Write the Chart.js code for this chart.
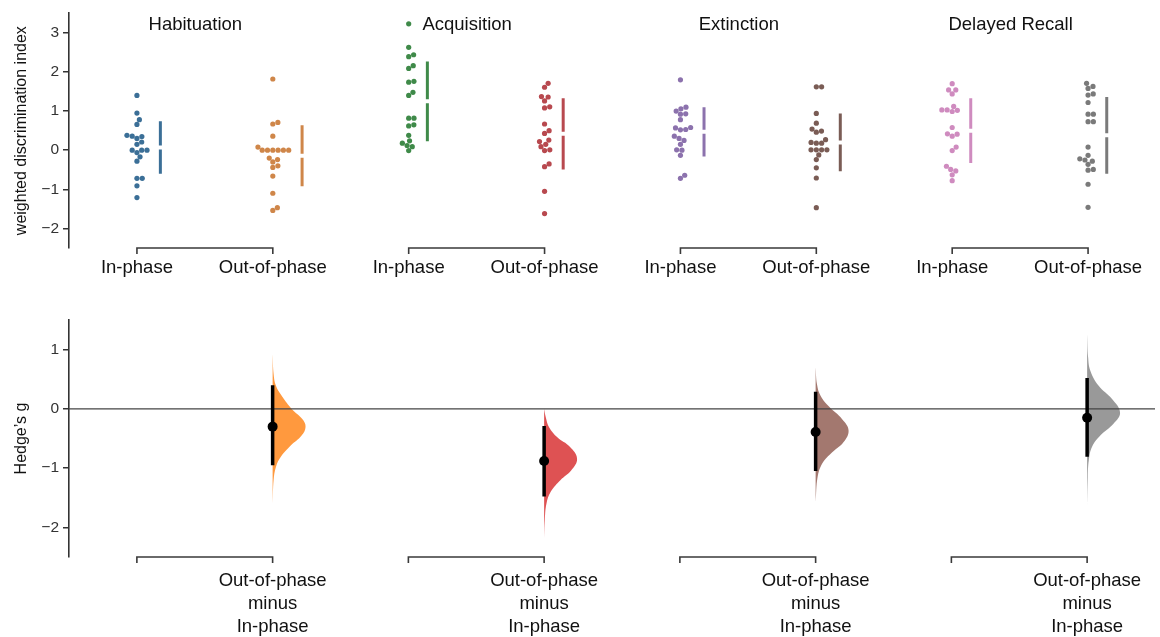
<!DOCTYPE html>
<html>
<head>
<meta charset="utf-8">
<script src="https://cdn.jsdelivr.net/npm/chart.js@4.4.1/dist/chart.umd.min.js"></script>
<style>
  html, body { margin: 0; padding: 0; background: #fff; }
  #wrap { width: 1160px; height: 637px; position: relative; }
  canvas { position: absolute; left: 0; }
  #topChart { top: 0; }
  #botChart { top: 300px; }
</style>
</head>
<body>
<div id="wrap">
  <canvas id="topChart" width="1160" height="300"></canvas>
  <canvas id="botChart" width="1160" height="337"></canvas>
</div>
<script>
const phases = ['Habituation', 'Acquisition', 'Extinction', 'Delayed Recall'];
const groupNames = ['In-phase', 'Out-of-phase'];
const contrastLabel = ['Out-of-phase', 'minus', 'In-phase'];
const topTicks = [-2, -1, 0, 1, 2, 3];
const bottomTicks = [-2, -1, 0, 1];

// raw values, weighted discrimination index
const habIn = [1.40, 0.95, 0.78, 0.66, 0.38, 0.36, 0.35, 0.30, 0.21, 0.15, 0.00, 0.00, 0.00, -0.06, -0.17, -0.28, -0.72, -0.72, -0.91, -1.21];
const habOut = [1.82, 0.71, 0.67, 0.36, 0.08, 0.00, 0.00, 0.00, 0.00, 0.00, 0.00, -0.20, -0.24, -0.30, -0.40, -0.44, -0.66, -1.10, -1.47, -1.54];
const acqIn = [3.23, 2.63, 2.44, 2.39, 2.16, 2.09, 1.76, 1.74, 1.48, 1.40, 0.82, 0.82, 0.65, 0.62, 0.38, 0.24, 0.18, 0.12, 0.09, -0.01];
const acqOut = [1.71, 1.61, 1.37, 1.36, 1.26, 1.11, 1.08, 0.67, 0.50, 0.43, 0.26, 0.22, 0.15, 0.09, 0.01, -0.01, -0.35, -0.42, -1.05, -1.62];
const extIn = [1.80, 1.10, 1.06, 1.00, 0.93, 0.92, 0.78, 0.58, 0.57, 0.53, 0.52, 0.36, 0.30, 0.25, 0.15, 0.01, 0.00, -0.13, -0.64, -0.72];
const extOut = [1.62, 1.62, 0.94, 0.69, 0.54, 0.49, 0.46, 0.27, 0.20, 0.18, 0.18, 0.01, 0.01, 0.01, 0.01, -0.12, -0.24, -0.45, -0.71, -1.47];
const recIn = [1.70, 1.54, 1.54, 1.44, 1.12, 1.03, 1.03, 1.02, 0.99, 0.58, 0.42, 0.41, 0.36, 0.08, -0.01, -0.41, -0.49, -0.53, -0.63, -0.78];
const recOut = [1.71, 1.63, 1.58, 1.44, 1.41, 1.22, 0.92, 0.92, 0.73, 0.73, 0.08, -0.13, -0.22, -0.25, -0.28, -0.36, -0.49, -0.51, -0.87, -1.46];

// mean and sd bars
const groupMean = [0.07, -0.14, 1.25, 0.42, 0.47, 0.20, 0.50, 0.38];
const groupSd = [0.67, 0.78, 1.02, 0.91, 0.63, 0.74, 0.83, 0.98];

// Hedge's g with 95% CI
const hedgesG = [-0.30, -0.88, -0.39, -0.15];
const ciLow = [-0.95, -1.48, -1.05, -0.81];
const ciHigh = [0.40, -0.29, 0.29, 0.52];

// bootstrap distributions (relative density)
const habBootG = [0.92, 0.59, 0.39, 0.20, 0.00, -0.17, -0.30, -0.45, -0.62, -0.81, -0.98, -1.20, -1.60];
const habBootDensity = [0, 0.03, 0.10, 0.30, 0.58, 0.90, 1.00, 0.88, 0.55, 0.25, 0.10, 0.03, 0];
const acqBootG = [0.00, -0.14, -0.31, -0.48, -0.64, -0.84, -1.04, -1.20, -1.40, -1.60, -1.88, -2.21];
const acqBootDensity = [0, 0.05, 0.15, 0.40, 0.78, 1.00, 0.82, 0.50, 0.20, 0.07, 0.02, 0];
const extBootG = [0.70, 0.42, 0.22, 0.03, -0.17, -0.36, -0.56, -0.76, -0.92, -1.15, -1.57];
const extBootDensity = [0, 0.04, 0.15, 0.42, 0.80, 1.00, 0.85, 0.45, 0.20, 0.06, 0];
const recBootG = [1.26, 0.87, 0.64, 0.39, 0.17, -0.06, -0.25, -0.45, -0.64, -0.87, -1.15, -1.65];
const recBootDensity = [0, 0.03, 0.10, 0.35, 0.75, 1.00, 0.80, 0.40, 0.15, 0.05, 0.02, 0];

const swarmColors = ['#3b6f97', '#cf8649', '#3f8a49', '#b8494f', '#8c72ad', '#7a5c55', '#cf8bbf', '#7a7a7a'];
const bootColors = ['rgba(255,127,14,0.8)', 'rgba(214,39,40,0.8)', 'rgba(140,86,75,0.8)', 'rgba(127,127,127,0.8)'];

const groups = [habIn, habOut, acqIn, acqOut, extIn, extOut, recIn, recOut];
const bootG = [habBootG, acqBootG, extBootG, recBootG];
const bootDensity = [habBootDensity, acqBootDensity, extBootDensity, recBootDensity];

const fontFamily = '"Liberation Sans", Arial, Helvetica, sans-serif';

function yTickLabel(v) {
    return v < 0 ? '\u2212' + Math.abs(v) : String(v);
}

function yAxis(min, max, ticks, title) {
    return {
        type: 'linear', min: min, max: max,
        afterBuildTicks: s => { s.ticks = ticks.map(v => ({ value: v })); },
        afterFit: s => { s.width = 69; },
        grid: { drawOnChartArea: false, drawTicks: true, tickLength: 6, color: '#333', lineWidth: 1.5 },
        border: { display: true, color: '#333', width: 1.6 },
        ticks: { padding: 4, color: '#333', font: { family: fontFamily, size: 15.5 }, callback: yTickLabel },
        title: { display: true, text: title, color: '#111', font: { family: fontFamily, size: 16 }, padding: { top: 12, bottom: 0 } }
    };
}

function xAxis(height, pad, lineHeight, labelFn) {
    return {
        type: 'linear', min: -0.5, max: 7.5,
        afterBuildTicks: s => { s.ticks = groups.map((g, i) => ({ value: i })); },
        afterFit: s => { s.height = height; },
        grid: { display: false, drawTicks: false },
        border: { display: false },
        ticks: { padding: pad, autoSkip: false, maxRotation: 0, color: '#111', font: { family: fontFamily, size: 18.5, lineHeight: lineHeight }, callback: labelFn }
    };
}

const bracketPlugin = {
    id: 'brackets',
    afterDraw(chart) {
        const { ctx, chartArea, scales } = chart;
        const y = chartArea.bottom;
        ctx.save();
        ctx.strokeStyle = '#3a3a3a';
        ctx.lineWidth = 1.6;
        phases.forEach((p, k) => {
            const x0 = scales.x.getPixelForValue(2 * k);
            const x1 = scales.x.getPixelForValue(2 * k + 1);
            ctx.beginPath();
            ctx.moveTo(x0, y + 6);
            ctx.lineTo(x0, y);
            ctx.lineTo(x1, y);
            ctx.lineTo(x1, y + 6);
            ctx.stroke();
        });
        ctx.restore();
    }
};

const subtitlePlugin = {
    id: 'subtitles',
    afterDraw(chart) {
        const { ctx, scales } = chart;
        ctx.save();
        ctx.fillStyle = '#111';
        ctx.font = '18.5px ' + fontFamily;
        ctx.textAlign = 'center';
        ctx.textBaseline = 'middle';
        phases.forEach((p, k) => {
            ctx.fillText(p, scales.x.getPixelForValue(2 * k + 0.43), 25);
        });
        ctx.restore();
    }
};

// beeswarm offsets in pixels, ys are pixel heights of the points
function swarm(ys, d) {
    const order = ys.map((v, i) => i).sort((a, b) => ys[a] - ys[b]);
    const placed = [];
    const out = new Array(ys.length);
    order.forEach(i => {
        const py = ys[i];
        const cands = [0];
        placed.forEach(p => {
            const dy = Math.abs(p.y - py);
            if (dy < d) {
                const dx = Math.sqrt(d * d - dy * dy);
                cands.push(p.x + dx, p.x - dx);
            }
        });
        cands.sort((a, b) => Math.abs(a) - Math.abs(b));
        let best = 0;
        for (const c of cands) {
            if (placed.every(p => (p.x - c) ** 2 + (p.y - py) ** 2 >= d * d - 0.01)) {
                best = c;
                break;
            }
        }
        placed.push({ x: best, y: py });
        out[i] = best;
    });
    return out;
}

const baseOptions = {
    responsive: false,
    animation: false,
    events: [],
    plugins: { legend: { display: false }, tooltip: { enabled: false } }
};

const topChart = new Chart(document.getElementById('topChart'), {
    type: 'scatter',
    data: { datasets: [] },
    options: Object.assign({}, baseOptions, {
        layout: { padding: { top: 12, right: 3, left: 0, bottom: 0 } },
        scales: {
            x: xAxis(52, 9, 1.2, v => groupNames[v % 2]),
            y: yAxis(-2.5, 3.5, topTicks, 'weighted discrimination index')
        }
    }),
    plugins: [bracketPlugin, subtitlePlugin]
});

const botChart = new Chart(document.getElementById('botChart'), {
    type: 'scatter',
    data: { datasets: [] },
    options: Object.assign({}, baseOptions, {
        layout: { padding: { top: 20, right: 3, left: 0, bottom: 0 } },
        scales: {
            x: xAxis(80, 12, 1.25, v => (v % 2 === 1 ? contrastLabel : '')),
            y: yAxis(-2.5, 1.5, bottomTicks, 'Hedge\u2019s g')
        }
    }),
    plugins: [bracketPlugin]
});

// top: swarms with mean +- sd bars
{
    const xs = topChart.scales.x, ys = topChart.scales.y;
    const pxX = xs.getPixelForValue(1) - xs.getPixelForValue(0);
    const pxY = ys.getPixelForValue(0) - ys.getPixelForValue(1);
    groups.forEach((vals, i) => {
        const offs = swarm(vals.map(v => v * pxY), 5.3);
        const maxOff = Math.max(...offs);
        topChart.data.datasets.push({
            type: 'scatter',
            data: vals.map((v, j) => ({ x: i + offs[j] / pxX, y: v })),
            backgroundColor: swarmColors[i],
            borderWidth: 0,
            pointRadius: 2.6
        });
        const bx = i + (maxOff + 13.4) / pxX;
        const gap = 2 / pxY;
        const m = groupMean[i], s = groupSd[i];
        topChart.data.datasets.push({
            type: 'line',
            data: [{ x: bx, y: m + s }, { x: bx, y: m + gap }, { x: bx, y: null }, { x: bx, y: m - gap }, { x: bx, y: m - s }],
            borderColor: swarmColors[i],
            borderWidth: 3,
            borderCapStyle: 'butt',
            pointRadius: 0,
            fill: false
        });
    });
    topChart.update('none');
}

// bottom: bootstrap half violins, CI and point estimate
{
    const xs = botChart.scales.x;
    const pxX = xs.getPixelForValue(1) - xs.getPixelForValue(0);
    const maxW = 33 / pxX;
    phases.forEach((p, k) => {
        const x0 = 2 * k + 1;
        botChart.data.datasets.push({
            type: 'line',
            order: 3,
            data: bootG[k].map((g, j) => ({ x: x0 + bootDensity[k][j] * maxW, y: g })),
            backgroundColor: bootColors[k],
            borderColor: 'rgba(0,0,0,0)',
            borderWidth: 0,
            pointRadius: 0,
            tension: 0.4,
            fill: 'shape'
        });
        botChart.data.datasets.push({
            type: 'line',
            order: 1,
            data: [{ x: x0, y: ciHigh[k] }, { x: x0, y: ciLow[k] }],
            borderColor: '#000',
            borderWidth: 3.5,
            borderCapStyle: 'butt',
            pointRadius: 0,
            fill: false
        });
        botChart.data.datasets.push({
            type: 'scatter',
            order: 0,
            data: [{ x: x0, y: hedgesG[k] }],
            backgroundColor: '#000',
            borderWidth: 0,
            pointRadius: 5
        });
    });
    botChart.data.datasets.push({
        type: 'line',
        order: 2,
        data: [{ x: -0.5, y: 0 }, { x: 7.5, y: 0 }],
        borderColor: '#444',
        borderWidth: 1.2,
        pointRadius: 0,
        fill: false
    });
    botChart.update('none');
}
</script>
</body>
</html>
